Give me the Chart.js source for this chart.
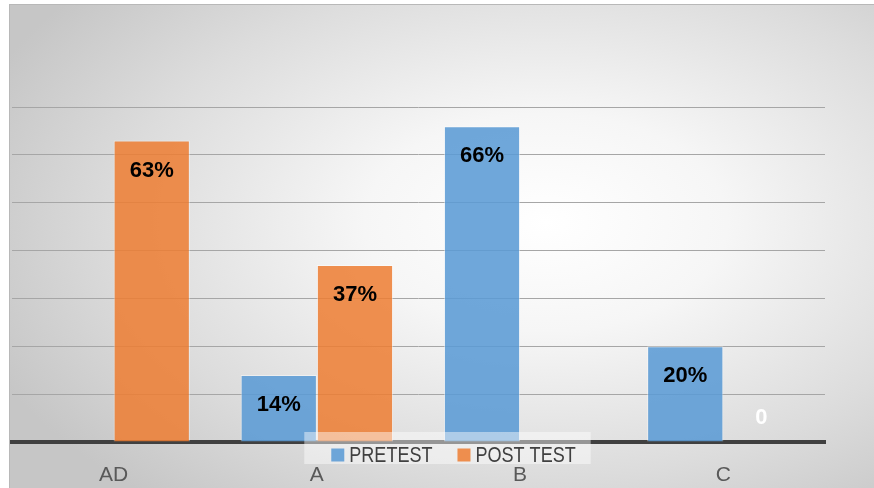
<!DOCTYPE html>
<html>
<head>
<meta charset="utf-8">
<script src="https://cdn.jsdelivr.net/npm/chart.js@4.4.1/dist/chart.umd.min.js"></script>
<style>
  html, body { margin: 0; padding: 0; background: #fff; width: 874px; height: 488px; overflow: hidden; }
  #box {
    position: absolute; left: 9px; top: 4px; width: 864px; height: 483px;
    border-left: 1px solid #b8b8b8; border-top: 1px solid #b8b8b8;
    background: radial-gradient(ellipse 70% 75% at 62% 45%, #ffffff 0%, #f6f6f6 30%, #dcdcdc 70%, #c6c6c6 100%);
  }
  canvas { display: block; }
</style>
</head>
<body>
<div id="box"><canvas id="chart" width="864" height="483"></canvas></div>
<script>
const categories = ['AD', 'A', 'B', 'C'];
const pretest = [null, 14, 66, 20];
const posttest = [63, 37, null, 0];
const seriesNames = ['PRETEST', 'POST TEST'];
const yTicks = { min: 0, max: 70, step: 10 };

const blue = 'rgba(91,155,213,0.88)';
const orange = 'rgba(237,125,49,0.85)';

// data labels sit just inside the top of each bar
const barLabels = {
    id: 'barLabels',
    afterDatasetsDraw(chart) {
        const ctx = chart.ctx;
        ctx.save();
        ctx.font = 'bold 22px "Liberation Sans", Arial, sans-serif';
        ctx.textAlign = 'center';
        ctx.textBaseline = 'middle';
        chart.data.datasets.forEach((ds, i) => {
            const meta = chart.getDatasetMeta(i);
            meta.data.forEach((bar, j) => {
                const v = ds.data[j];
                if (v === null) return;
                const base = chart.scales.y.getPixelForValue(0);
                const y = Math.min(bar.y + 30, base - 24);
                ctx.fillStyle = v === 0 ? '#ffffff' : '#000000';
                ctx.fillText(v === 0 ? '0' : v + '%', bar.x, y);
            });
        });
        ctx.restore();
    }
};

// legend overlaps the axis line, between the line and the category labels
const overlayLegend = {
    id: 'overlayLegend',
    afterDraw(chart) {
        const ctx = chart.ctx;
        const area = chart.chartArea;
        const squeeze = 0.82; // narrow look of the original font
        ctx.save();
        ctx.font = '22px "Liberation Sans", Arial, sans-serif';
        const sq = 13, gap = 5, between = 25;
        const widths = seriesNames.map(n => ctx.measureText(n).width * squeeze);
        const total = widths.reduce((a, w) => a + sq + gap + w, 0) + between;
        const cx = (area.left + area.right) / 2 + 35;
        let x = cx - total / 2;
        const y = area.bottom + 13;
        ctx.fillStyle = 'rgba(255,255,255,0.45)';
        ctx.fillRect(x - 27, area.bottom - 10, total + 42, 32);
        ctx.textBaseline = 'middle';
        seriesNames.forEach((n, i) => {
            ctx.fillStyle = chart.data.datasets[i].backgroundColor;
            ctx.fillRect(x, y - sq / 2, sq, sq);
            ctx.fillStyle = '#404040';
            ctx.save();
            ctx.translate(x + sq + gap, y + 1);
            ctx.scale(squeeze, 1);
            ctx.fillText(n, 0, 0);
            ctx.restore();
            x += sq + gap + widths[i] + between;
        });
        ctx.restore();
    }
};

new Chart(document.getElementById('chart'), {
    type: 'bar',
    data: {
        labels: categories,
        datasets: [
            { label: seriesNames[0], data: pretest, backgroundColor: blue,
              borderColor: 'rgba(255,255,255,0.45)', borderWidth: 1 },
            { label: seriesNames[1], data: posttest, backgroundColor: orange,
              borderColor: 'rgba(255,255,255,0.45)', borderWidth: 1 }
        ]
    },
    options: {
        responsive: false,
        animation: false,
        layout: { padding: { top: 102, left: 2, right: 49, bottom: 0 } },
        datasets: { bar: { categoryPercentage: 0.75, barPercentage: 1.0 } },
        plugins: { legend: { display: false }, tooltip: { enabled: false } },
        scales: {
            x: {
                grid: { display: false, drawTicks: false },
                border: { display: true, color: '#404040', width: 4 },
                ticks: { color: '#595959', padding: 21,
                         font: { family: '"Liberation Sans", Arial, sans-serif', size: 21 } },
                afterFit(scale) { scale.height = 46; }
            },
            y: {
                min: yTicks.min, max: yTicks.max,
                ticks: { display: false, stepSize: yTicks.step },
                grid: { color: '#a6a6a6', lineWidth: 1, drawTicks: false },
                border: { display: false },
                afterFit(scale) { scale.width = 0; }
            }
        }
    },
    plugins: [barLabels, overlayLegend]
});
</script>
</body>
</html>
